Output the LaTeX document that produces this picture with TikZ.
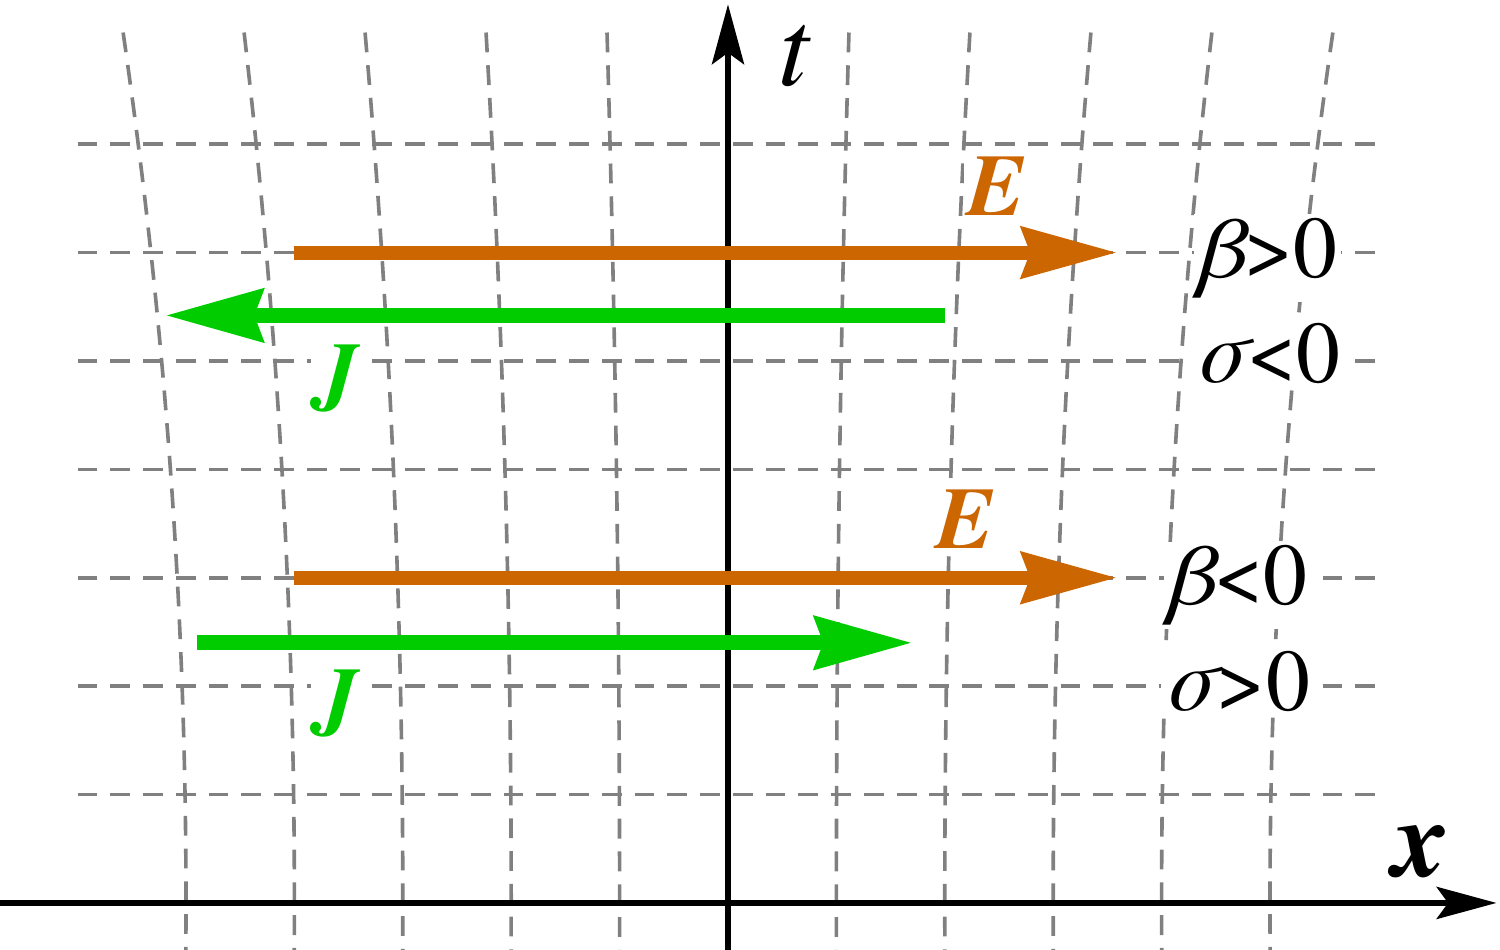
\documentclass[tikz,border=0pt]{standalone}
\usepackage{fontspec}
\setmainfont{texgyretermes}[
  Extension=.otf,
  UprightFont=*-regular,
  ItalicFont=*-italic,
  BoldFont=*-bold,
  BoldItalicFont=*-bolditalic]
\usetikzlibrary{arrows.meta}
\definecolor{eorange}{RGB}{204,102,0}
\definecolor{jgreen}{RGB}{0,204,0}
\def\bigfont{\fontsize{29}{34}\selectfont}
\def\midfont{\fontsize{23}{27}\selectfont}
\tikzset{
  gridline/.style={dash pattern=on 5.2pt off 3.4pt, line width=0.95pt, color=gray},
  axisline/.style={line width=1.6pt, -{Stealth[length=15.7pt, width=8.4pt, inset=3pt]}},
  earrow/.style={line width=3.7pt, color=eorange, -{Stealth[length=25pt, width=13.2pt, inset=2.2pt]}},
  jarrow/.style={line width=3.9pt, color=jgreen, -{Stealth[length=25.5pt, width=13.6pt, inset=2.2pt]}},
  lbl/.style={fill=white, inner sep=1pt, font=\midfont}
}

\begin{document}
\begin{tikzpicture}
		%%%%% START %%%%%
		\useasboundingbox (-6.716,-0.434) rectangle (7.122,8.33);
		
		% grid
		\foreach \k in {1,...,7}
			\draw[gridline] (-6,\k) -- (6.02,\k);
		\foreach \a in {-5,-4,-3,-2,-1,1,2,3,4,5}
			\draw[gridline] plot[domain=8.03:-0.45, samples=40, variable=\y] ({\a*(1+0.0018*\y*\y)},\y);
		
		% axes
		\coordinate (xs) at (-6.75,0);
		\coordinate (xe) at (7.09,0);
		\coordinate (ts) at (0,-0.45);
		\coordinate (te) at (0,8.29);
		\draw[axisline] (xs) -- (xe);
		\draw[axisline] (ts) -- (te);
		\node (tlbl) at (0.61,7.81) {\bigfont\itshape t};
		\node (xlbl) at (6.39,0.47) {\bigfont\bfseries\itshape x};
		
		% beta > 0, sigma < 0
		\coordinate (Eas) at (-4,6);
		\coordinate (Eae) at (3.59,6);
		\coordinate (Jas) at (2.0,5.42);
		\coordinate (Jae) at (-5.19,5.42);
		\draw[earrow] (Eas) -- (Eae);
		\draw[jarrow] (Jas) -- (Jae);
		\node[lbl, text=eorange] (Ea) at (2.48,6.61) {\bfseries\itshape E};
		\node[lbl, text=jgreen] (Ja) at (-3.61,4.84) {\bfseries\itshape J};
		\node[lbl, anchor=base] (betaa) at (4.98,5.77) {{\itshape β}>0};
		\node[lbl, anchor=base] (sigmaa) at (4.98,4.80) {{\itshape σ}<0};
		
		% beta < 0, sigma > 0
		\coordinate (Ebs) at (-4,3);
		\coordinate (Ebe) at (3.59,3);
		\coordinate (Jbs) at (-4.9,2.4);
		\coordinate (Jbe) at (1.70,2.4);
		\draw[earrow] (Ebs) -- (Ebe);
		\draw[jarrow] (Jbs) -- (Jbe);
		\node[lbl, text=eorange] (Eb) at (2.19,3.54) {\bfseries\itshape E};
		\node[lbl, text=jgreen] (Jb) at (-3.61,1.84) {\bfseries\itshape J};
		\node[lbl, anchor=base] (betab) at (4.70,2.75) {{\itshape β}<0};
		\node[lbl, anchor=base] (sigmab) at (4.70,1.78) {{\itshape σ}>0};
		
		%%%%% END %%%%%
\end{tikzpicture}
\end{document}
